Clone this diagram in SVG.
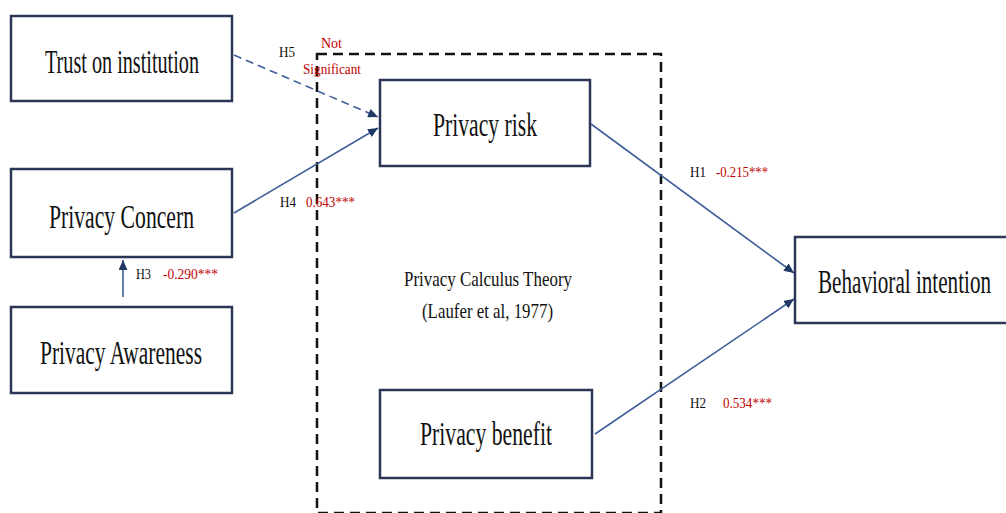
<svg xmlns="http://www.w3.org/2000/svg" width="1006" height="513" viewBox="0 0 1006 513">
<defs>
<marker id="arr" markerUnits="userSpaceOnUse" markerWidth="11" markerHeight="9" refX="10" refY="4.5" orient="auto">
<path d="M0,0 L10,4.5 L0,9 z" fill="#1f3864"/>
</marker>
<style>
.box{fill:#fff;stroke:#2b3556;stroke-width:2.5}
.nt{font-family:"Liberation Serif","Times New Roman",serif;font-size:34px;fill:#111}
.lb{font-family:"Liberation Serif","Times New Roman",serif;font-size:15px;fill:#111}
.rd{font-family:"Liberation Serif","Times New Roman",serif;font-size:15px;fill:#c00000}
.th{font-family:"Liberation Serif","Times New Roman",serif;font-size:21px;fill:#111}
.ln{stroke:#3f5f9a;stroke-width:1.6;fill:none;marker-end:url(#arr)}
</style>
</defs>
<rect width="1006" height="513" fill="#fff"/>
<rect x="317" y="54" width="344" height="459" fill="none" stroke="#111" stroke-width="2.5" stroke-dasharray="10,6"/>
<g id="connectors">
<line class="ln" x1="234" y1="55" x2="378" y2="117" stroke-dasharray="8,5"/>
<line class="ln" x1="234" y1="213" x2="378" y2="128"/>
<line class="ln" x1="123" y1="297" x2="123" y2="260"/>
<line class="ln" x1="591" y1="124" x2="794" y2="273"/>
<line class="ln" x1="595" y1="434" x2="794" y2="299"/>
</g>
<g id="trust">
<rect class="box" x="11" y="16" width="221" height="85"/>
<text class="nt" x="45" y="73" font-size="32" textLength="154" lengthAdjust="spacingAndGlyphs">Trust on institution</text>
</g>
<g id="concern">
<rect class="box" x="11" y="169" width="221" height="88"/>
<text class="nt" x="49" y="228" textLength="145" lengthAdjust="spacingAndGlyphs">Privacy Concern</text>
</g>
<g id="awareness">
<rect class="box" x="11" y="307" width="221" height="86"/>
<text class="nt" x="40" y="364" textLength="162" lengthAdjust="spacingAndGlyphs">Privacy Awareness</text>
</g>
<g id="risk">
<rect class="box" x="380" y="80" width="210" height="86"/>
<text class="nt" x="433" y="136" textLength="104" lengthAdjust="spacingAndGlyphs">Privacy risk</text>
</g>
<g id="benefit">
<rect class="box" x="380" y="390" width="212" height="88"/>
<text class="nt" x="420" y="445" textLength="132" lengthAdjust="spacingAndGlyphs">Privacy benefit</text>
</g>
<g id="intention">
<rect class="box" x="795" y="237" width="220" height="86"/>
<text class="nt" x="818" y="293" textLength="173" lengthAdjust="spacingAndGlyphs">Behavioral intention</text>
</g>
<g id="theory">
<text class="th" x="404" y="286" textLength="168" lengthAdjust="spacingAndGlyphs">Privacy Calculus Theory</text>
<text class="th" x="422" y="318" textLength="131" lengthAdjust="spacingAndGlyphs">(Laufer et al, 1977)</text>
</g>
<g id="labels">
<text class="lb" x="279" y="57" textLength="16" lengthAdjust="spacingAndGlyphs">H5</text>
<text class="rd" x="321" y="48" textLength="21" lengthAdjust="spacingAndGlyphs">Not</text>
<text class="rd" x="303" y="74" textLength="58" lengthAdjust="spacingAndGlyphs">Significant</text>
<text class="lb" x="280" y="207" textLength="16" lengthAdjust="spacingAndGlyphs">H4</text>
<text class="rd" x="306" y="207" textLength="49" lengthAdjust="spacingAndGlyphs">0.643***</text>
<text class="lb" x="136" y="279" textLength="15" lengthAdjust="spacingAndGlyphs">H3</text>
<text class="rd" x="163" y="279" textLength="55" lengthAdjust="spacingAndGlyphs">-0.290***</text>
<text class="lb" x="690" y="177" textLength="16" lengthAdjust="spacingAndGlyphs">H1</text>
<text class="rd" x="716" y="177" textLength="52" lengthAdjust="spacingAndGlyphs">-0.215***</text>
<text class="lb" x="690" y="408" textLength="16" lengthAdjust="spacingAndGlyphs">H2</text>
<text class="rd" x="723" y="408" textLength="49" lengthAdjust="spacingAndGlyphs">0.534***</text>
</g>
</svg>
